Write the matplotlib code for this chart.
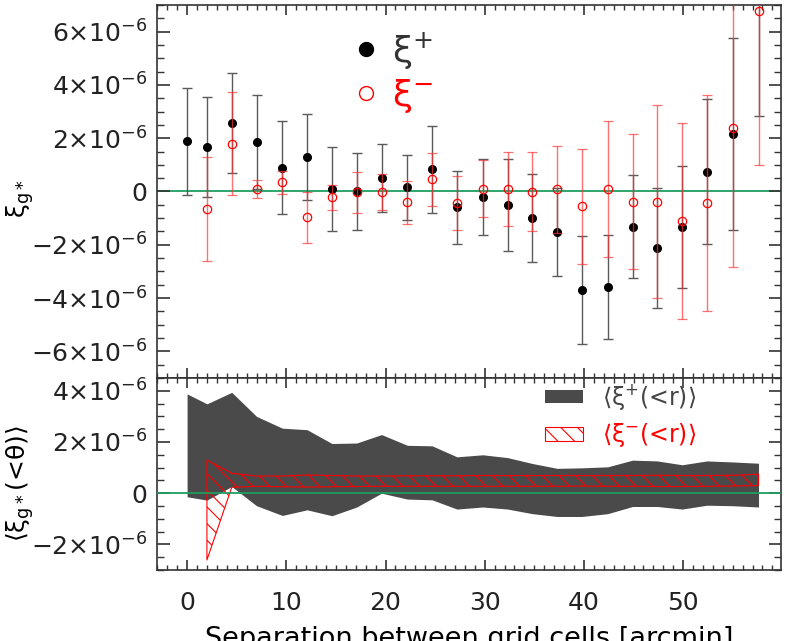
import numpy as np
import matplotlib
matplotlib.use('Agg')
import matplotlib.pyplot as plt
from matplotlib.lines import Line2D
from matplotlib.patches import Patch
from matplotlib.ticker import FixedLocator, MultipleLocator, FuncFormatter

## data (values in units of 1e-6)
sep = [0, 2.0, 4.5, 7.0, 9.6, 12.1, 14.6, 17.1, 19.6, 22.2, 24.7, 27.2,
       29.8, 32.3, 34.8, 37.3, 39.8, 42.4, 44.9, 47.4, 49.9, 52.4, 55.0, 57.6]

xi_plus = [1.88, 1.67, 2.57, 1.85, 0.90, 1.29, 0.09, 0.01, 0.51, 0.16, 0.84, -0.59,
           -0.21, -0.50, -1.01, -1.52, -3.71, -3.59, -1.32, -2.12, -1.35, 0.75, 2.15, 7.6]
xi_plus_err = [2.00, 1.88, 1.88, 1.76, 1.75, 1.61, 1.57, 1.45, 1.29, 1.22, 1.63, 1.37,
               1.44, 1.73, 1.65, 1.65, 2.03, 1.96, 1.93, 2.27, 2.29, 2.72, 3.60, 4.75]

xi_minus = [np.nan, -0.65, 1.79, 0.11, 0.35, -0.97, -0.21, -0.02, -0.02, -0.41, 0.46, -0.44,
            0.11, 0.09, -0.01, 0.09, -0.56, 0.09, -0.38, -0.38, -1.10, -0.44, 2.40, 6.79]
xi_minus_err = [np.nan, 1.94, 1.94, 0.34, 0.43, 0.95, 0.47, 0.77, 0.67, 0.80, 1.00, 1.01,
                1.07, 1.38, 1.49, 1.63, 2.15, 2.55, 2.52, 3.63, 3.68, 4.05, 5.24, 5.79]

# cumulative <xi(<r)> bands
cum_plus_hi = [3.88, 3.49, 3.94, 3.00, 2.54, 2.48, 1.94, 1.96, 2.29, 1.87, 1.85, 1.42,
               1.50, 1.39, 1.16, 0.97, 0.99, 1.03, 1.29, 1.26, 1.11, 1.26, 1.22, 1.17]
cum_plus_lo = [-0.14, -0.27, 0.26, -0.49, -0.87, -0.65, -0.88, -0.54, 0.0, -0.23, -0.26, -0.62,
               -0.54, -0.62, -0.80, -0.91, -0.91, -0.80, -0.52, -0.52, -0.62, -0.47, -0.49, -0.54]
cum_minus_hi = [np.nan, 1.29, 0.78, 0.67, 0.67, 0.71, 0.69, 0.67, 0.67, 0.68, 0.68, 0.68,
                0.69, 0.69, 0.69, 0.69, 0.69, 0.69, 0.69, 0.70, 0.69, 0.69, 0.70, 0.74]
cum_minus_lo = [np.nan, -2.61, 0.23, 0.27, 0.25, 0.24, 0.25, 0.26, 0.27, 0.27, 0.27, 0.27,
                0.27, 0.27, 0.27, 0.27, 0.28, 0.27, 0.27, 0.26, 0.26, 0.27, 0.28, 0.30]

top_ticks = [-6, -4, -2, 0, 2, 4, 6]
bot_ticks = [-2, 0, 2, 4]

u = 1e-6
x = np.array(sep)

plt.rcParams['font.size'] = 18
plt.rcParams['mathtext.default'] = 'regular'
plt.rcParams['hatch.linewidth'] = 0.8
plt.rcParams['axes.linewidth'] = 1.2
plt.rcParams['axes.edgecolor'] = '#333333'
plt.rcParams['text.color'] = '#222222'
plt.rcParams['xtick.color'] = '#333333'
plt.rcParams['ytick.color'] = '#333333'
plt.rcParams['xtick.labelcolor'] = '#222222'
plt.rcParams['ytick.labelcolor'] = '#222222'

fig = plt.figure(figsize=(7.89, 6.41), dpi=100)
ax1 = fig.add_axes([0.1994, 0.4103, 0.7909, 0.5819])
ax2 = fig.add_axes([0.1994, 0.1108, 0.7909, 0.2995])

green = '#1f9e5f'

def sci(v, pos):
    n = int(round(v / u))
    if n == 0:
        return '0'
    s = str(abs(n))
    if n < 0:
        s = '\u2212' + s
    return s + '\u00d710$^{-6}$'

## top panel
ax1.axhline(0, color=green, lw=1.3, zorder=1)
ax1.errorbar(x, np.array(xi_plus) * u, yerr=np.array(xi_plus_err) * u, fmt='o',
             color='k', ms=5.5, ecolor='#5a5a5a', elinewidth=1, capsize=3.5, capthick=1, zorder=3)
ax1.errorbar(x, np.array(xi_minus) * u, yerr=np.array(xi_minus_err) * u, fmt='o',
             mfc='none', mec='red', mew=0.9, ms=6, ecolor=(1, 0.2, 0.2, 0.7),
             elinewidth=1, capsize=3.5, capthick=1, zorder=4)
ax1.set_xlim(-3, 59.9)
ax1.set_ylim(-7 * u, 7 * u)
ax1.yaxis.set_major_locator(FixedLocator([t * u for t in top_ticks]))
ax1.yaxis.set_minor_locator(MultipleLocator(0.5 * u))
ax1.yaxis.set_major_formatter(FuncFormatter(sci))
ax1.set_xticklabels([])
ax1.set_ylabel(r'$\xi_{g*}$')
ax1.yaxis.set_label_coords(-0.195, 0.48)

h1 = [Line2D([], [], ls='none', marker='o', color='k', ms=10),
      Line2D([], [], ls='none', marker='o', mfc='none', mec='red', ms=10)]
leg1 = ax1.legend(h1, [r'$\xi^{+}$', r'$\xi^{-}$'], loc='upper left', bbox_to_anchor=(0.254, 1.02),
                  frameon=False, fontsize=26, handlelength=1.0, handletextpad=0.2, labelspacing=0.15)
for t, c in zip(leg1.get_texts(), ['#333333', 'red']):
    t.set_color(c)

## bottom panel
ax2.axhline(0, color=green, lw=1.3, zorder=3)
ax2.fill_between(x, np.array(cum_plus_lo) * u, np.array(cum_plus_hi) * u,
                 color='#4a4a4a', lw=0, zorder=1)
ax2.fill_between(x, np.array(cum_minus_lo) * u, np.array(cum_minus_hi) * u,
                 facecolor='none', edgecolor='red', hatch='\\\\', lw=0.8, zorder=2)
ax2.set_xlim(-3, 59.9)
ax2.set_ylim(-3 * u, 4.5 * u)
ax2.yaxis.set_major_locator(FixedLocator([t * u for t in bot_ticks]))
ax2.yaxis.set_minor_locator(MultipleLocator(0.5 * u))
ax2.yaxis.set_major_formatter(FuncFormatter(sci))
ax2.set_ylabel(r'$\langle\xi_{g*}$(<$\theta$)$\rangle$')
ax2.yaxis.set_label_coords(-0.195, 0.45)
ax2.set_xlabel('Separation between grid cells [arcmin]', labelpad=8, fontsize=19.5)

h2 = [Patch(facecolor='#4a4a4a', edgecolor='none'),
      Patch(facecolor='none', edgecolor='red', hatch='\\\\', lw=0.8)]
leg2 = ax2.legend(h2, [r'$\langle\xi^{+}$(<r)$\rangle$', r'$\langle\xi^{-}$(<r)$\rangle$'],
                  loc='upper left', bbox_to_anchor=(0.587, 1.09), frameon=False, fontsize=17,
                  handlelength=1.6, handleheight=0.5, handletextpad=0.8, labelspacing=0.4)
for t, c in zip(leg2.get_texts(), ['#444444', 'red']):
    t.set_color(c)

for ax in (ax1, ax2):
    ax.xaxis.set_major_locator(MultipleLocator(10))
    ax.xaxis.set_minor_locator(MultipleLocator(1))
    ax.tick_params(which='both', direction='in', top=True, right=True)
    ax.tick_params(axis='x', which='major', length=7, width=1.2, pad=15)
    ax.tick_params(axis='x', which='minor', length=3.5, width=1)
    ax.tick_params(axis='y', which='major', length=9, width=1.2, pad=7)
    ax.tick_params(axis='y', which='minor', length=5, width=1)

fig.savefig('out.png', dpi=100)
